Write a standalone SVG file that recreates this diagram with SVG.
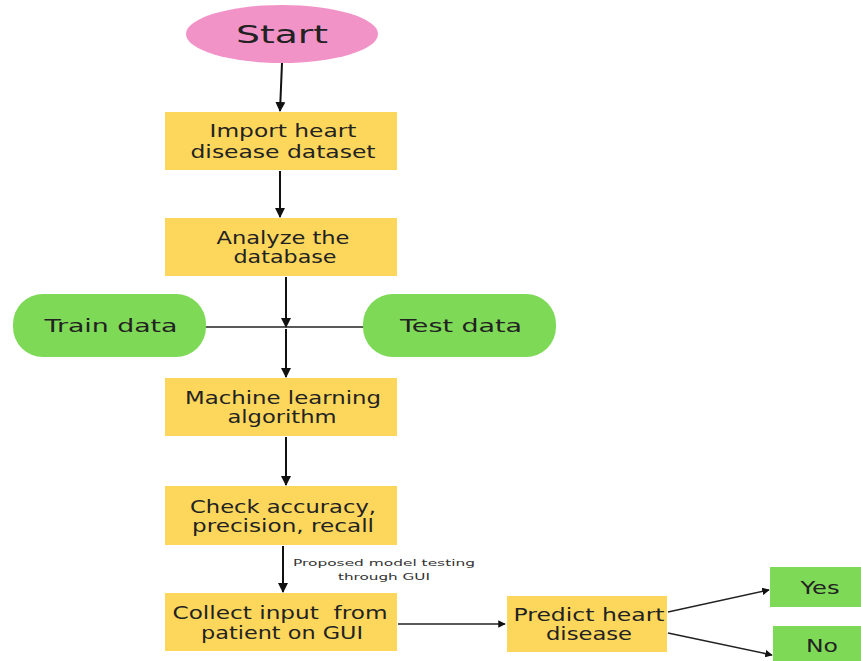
<svg xmlns="http://www.w3.org/2000/svg" width="861" height="661" viewBox="0 0 861 661">
<defs>
<style>
.box{fill:#fdd75c}
.grn{fill:#7ed957}
.t{font-family:"DejaVu Sans",sans-serif;font-size:17px;fill:#222;text-anchor:middle}
.s{font-family:"DejaVu Sans",sans-serif;font-size:9px;fill:#333;text-anchor:middle}
.ln{stroke:#111;stroke-width:2;fill:none}
.ln1{stroke:#222;stroke-width:1.5;fill:none}
</style>
<marker id="ah" viewBox="0 0 10 10" refX="9" refY="5" markerWidth="5" markerHeight="5" orient="auto"><path d="M0,0 L10,5 L0,10 Z" fill="#111"/></marker>
</defs>
<rect width="861" height="661" fill="#fff"/>
<g id="connectors">
<path class="ln" d="M282,63 L280,111" marker-end="url(#ah)"/>
<path class="ln" d="M280,171 L280,217" marker-end="url(#ah)"/>
<path class="ln" d="M286,277 L286,327" marker-end="url(#ah)"/>
<path class="ln1" d="M205,327 L365,327" stroke="#555"/>
<path class="ln" d="M286,329 L286,377" marker-end="url(#ah)"/>
<path class="ln" d="M286,437 L286,485" marker-end="url(#ah)"/>
<path class="ln" d="M283,546 L283,592" marker-end="url(#ah)"/>
<path class="ln1" d="M398,624 L505,624" marker-end="url(#ah)"/>
<path class="ln1" d="M668,612 L769,590" marker-end="url(#ah)"/>
<path class="ln1" d="M668,633 L772,655" marker-end="url(#ah)"/>
<text class="s" x="384" y="566" textLength="182" lengthAdjust="spacingAndGlyphs">Proposed model testing</text>
<text class="s" x="384" y="580" textLength="92" lengthAdjust="spacingAndGlyphs">through GUI</text>
</g>
<g id="start">
<ellipse cx="282" cy="34" rx="96" ry="29" fill="#f293c8"/>
<text class="t" x="282" y="43" style="font-size:24px" textLength="92" lengthAdjust="spacingAndGlyphs">Start</text>
</g>
<g id="import">
<rect class="box" x="165" y="112" width="232" height="58"/>
<text class="t" x="283" y="137" textLength="147" lengthAdjust="spacingAndGlyphs">Import heart</text>
<text class="t" x="283" y="158" textLength="185" lengthAdjust="spacingAndGlyphs">disease dataset</text>
</g>
<g id="analyze">
<rect class="box" x="165" y="218" width="232" height="58"/>
<text class="t" x="283" y="244" textLength="133" lengthAdjust="spacingAndGlyphs">Analyze the</text>
<text class="t" x="285" y="263" textLength="103" lengthAdjust="spacingAndGlyphs">database</text>
</g>
<g id="train">
<rect class="grn" x="13" y="294" width="193" height="63" rx="30"/>
<text class="t" x="111" y="332" textLength="133" lengthAdjust="spacingAndGlyphs">Train data</text>
</g>
<g id="test">
<rect class="grn" x="363" y="294" width="193" height="63" rx="30"/>
<text class="t" x="461" y="332" textLength="122" lengthAdjust="spacingAndGlyphs">Test data</text>
</g>
<g id="ml">
<rect class="box" x="165" y="378" width="232" height="58"/>
<text class="t" x="283" y="404" textLength="196" lengthAdjust="spacingAndGlyphs">Machine learning</text>
<text class="t" x="282" y="423" textLength="109" lengthAdjust="spacingAndGlyphs">algorithm</text>
</g>
<g id="check">
<rect class="box" x="165" y="486" width="232" height="59"/>
<text class="t" x="283" y="513" textLength="186" lengthAdjust="spacingAndGlyphs">Check accuracy,</text>
<text class="t" x="283" y="532" textLength="182" lengthAdjust="spacingAndGlyphs">precision, recall</text>
</g>
<g id="collect">
<rect class="box" x="165" y="593" width="232" height="58"/>
<text class="t" x="280" y="619" textLength="215" lengthAdjust="spacingAndGlyphs">Collect input&#160; from</text>
<text class="t" x="282" y="639" textLength="162" lengthAdjust="spacingAndGlyphs">patient on GUI</text>
</g>
<g id="predict">
<rect class="box" x="507" y="596" width="160" height="56"/>
<text class="t" x="589" y="621" textLength="151" lengthAdjust="spacingAndGlyphs">Predict heart</text>
<text class="t" x="589" y="640" textLength="86" lengthAdjust="spacingAndGlyphs">disease</text>
</g>
<g id="yes">
<rect class="grn" x="770" y="567" width="91" height="40"/>
<text class="t" x="820" y="594" textLength="39" lengthAdjust="spacingAndGlyphs">Yes</text>
</g>
<g id="no">
<rect class="grn" x="773" y="626" width="88" height="35"/>
<text class="t" x="822" y="652" textLength="32" lengthAdjust="spacingAndGlyphs">No</text>
</g>
</svg>
